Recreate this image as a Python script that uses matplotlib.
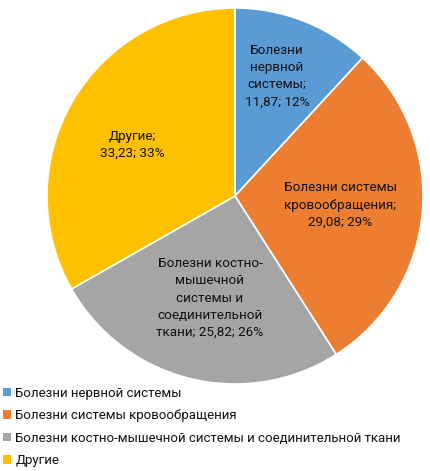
import matplotlib
matplotlib.use('Agg')
import matplotlib.pyplot as plt
from matplotlib.patches import Patch

plt.rcParams['font.family'] = ['Roboto', 'DejaVu Sans']

categories = ['Болезни нервной системы',
              'Болезни системы кровообращения',
              'Болезни костно-мышечной системы и соединительной ткани',
              'Другие']
values = [11.87, 29.08, 25.82, 33.23]
label_text = ['Болезни\nнервной\nсистемы;',
              'Болезни системы\nкровообращения;',
              'Болезни костно-\nмышечной\nсистемы и\nсоединительной\nткани;',
              'Другие;\n']
colors = ['#5B9BD5', '#ED7D31', '#A5A5A5', '#FFC000']

# label centres in pie units (radius = 1)
label_pos = [(0.223, 0.638), (0.559, -0.048), (-0.133, -0.543), (-0.548, 0.271)]

fig = plt.figure(figsize=(4.30, 4.71), dpi=100)
ax = fig.add_axes([47/430, 1 - 384/471, 376/430, 376/471])

wedges, _ = ax.pie(values, colors=colors, startangle=90, counterclock=False,
                   radius=1, wedgeprops=dict(edgecolor='white', linewidth=1.2))
ax.set_xlim(-1, 1)
ax.set_ylim(-1, 1)
ax.axis('off')

total = sum(values)
for txt, v, (x, y) in zip(label_text, values, label_pos):
    num = f"{v:.2f}".replace('.', ',')
    pct = round(v / total * 100)
    sep = ' ' if txt.endswith('ткани;') else ('\n' if not txt.endswith('\n') else '')
    s = f"{txt}{sep}{num}; {pct}%"
    ax.text(x, y, s, ha='center', va='center', fontsize=9.7, color='#111111',
            linespacing=1.42)

handles = [Patch(facecolor=c, edgecolor='none') for c in colors]
fig.legend(handles, categories, loc='upper left', bbox_to_anchor=(0.0, 1 - 384/471),
           frameon=False, fontsize=9.5, handlelength=0.6, handleheight=0.6,
           handletextpad=0.35, labelspacing=0.72, borderaxespad=0, borderpad=0.2,
           labelcolor='#111111')

fig.savefig('out.png', dpi=100)
